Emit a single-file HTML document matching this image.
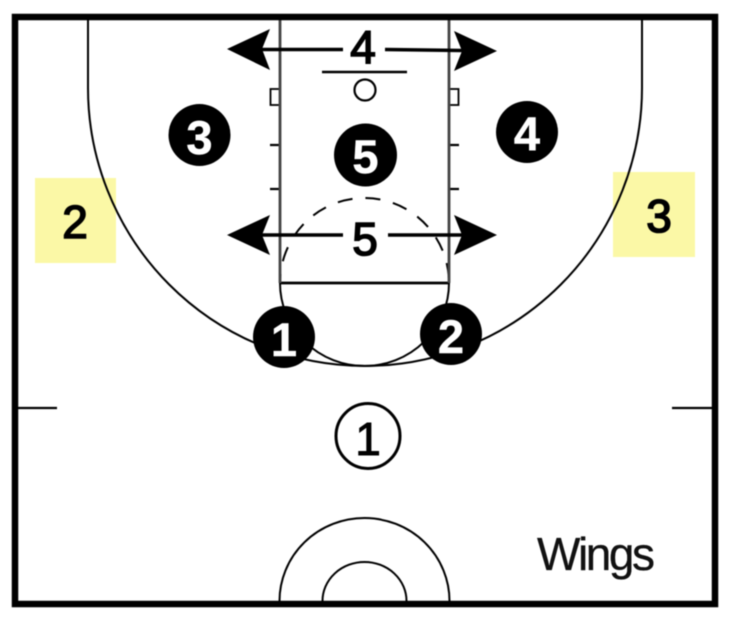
<!DOCTYPE html>
<html>
<head>
<meta charset="utf-8">
<style>
html,body{margin:0;padding:0;background:#fff;width:730px;height:619px;overflow:hidden}
svg{display:block;filter:blur(0.45px)}
text{font-family:"Liberation Sans",sans-serif;text-anchor:middle}
.w{fill:#fff;font-weight:bold;font-size:47px;stroke:#fff;stroke-width:.5px}
.b{fill:#000;stroke:#000;stroke-width:1.6px;font-size:46px}
</style>
</head>
<body>
<svg width="730" height="619" viewBox="0 0 730 619" xmlns="http://www.w3.org/2000/svg">
<rect width="730" height="619" fill="#fff"/>
<!-- yellow boxes -->
<rect x="35" y="178" width="81" height="85" fill="#fbf8a6"/>
<rect x="613" y="172" width="82" height="85" fill="#fbf8a6"/>
<!-- court lines -->
<g fill="none" stroke="#000" stroke-width="2">
  <path d="M88 20V88A277 278 0 0 0 642 88V20"/>
  <path d="M280 283A84.500 83 0 0 0 449 283"/>
  <path d="M280 283H449" stroke-width="2.800"/>
  <path d="M280 283A84.500 85 0 0 1 449 283" stroke-dasharray="15 13" stroke-dashoffset="6"/>
  <path d="M322 72H407" stroke-width="2.400"/>
  <circle cx="365" cy="90" r="10.500" stroke-width="2.200"/>
  <rect x="270.500" y="89" width="9.500" height="16" stroke-width="1.800"/>
  <rect x="449" y="89" width="9.500" height="16" stroke-width="1.800"/>
  <path d="M270 145H280M270 189H280M449 145H459M449 189H459" stroke-width="2.200"/>
  <path d="M18 408H57M672 408H712" stroke-width="2.200"/>
  <path d="M279.500 601A85 83 0 0 1 449.500 601"/>
  <path d="M322.500 601A42 39 0 0 1 406.500 601"/>
  <path d="M280 20V283M449 20V283" stroke="#444" stroke-width="2.800"/>
</g>
<!-- border -->
<rect x="15" y="17" width="700" height="587" fill="none" stroke="#000" stroke-width="6.500"/>
<!-- arrows -->
<g fill="#000" stroke="none">
  <path d="M227 49L270 29L262 49L270 70Z"/>
  <path d="M497 51L454 31L462 51L454 71Z"/>
  <path d="M227 235L270 215L262 235L270 255Z"/>
  <path d="M497 235L454 215L462 235L454 255Z"/>
</g>
<g stroke="#000" stroke-width="3.400" fill="none">
  <path d="M262 49.500H343M385 49.500L462 50.500"/>
  <path d="M262 235H343M388 235H462"/>
</g>
<text class="b" x="363" y="63">4</text>
<text class="b" x="365" y="255">5</text>
<!-- offense players -->
<g fill="#000">
  <circle cx="199.500" cy="135" r="31"/>
  <circle cx="527" cy="132" r="31"/>
  <circle cx="365.500" cy="155" r="31.500"/>
  <circle cx="284" cy="337" r="31"/>
  <circle cx="451" cy="334" r="31"/>
</g>
<text class="w" x="199.500" y="154">3</text>
<text class="w" x="527" y="150">4</text>
<text class="w" x="365.500" y="173">5</text>
<text class="w" x="284" y="356">1</text>
<text class="w" x="451" y="353">2</text>
<!-- open 1 -->
<ellipse cx="368" cy="436" rx="32" ry="32.500" fill="#fff" stroke="#000" stroke-width="3"/>
<text class="b" x="368" y="455" style="stroke-width:1px">1</text>
<!-- yellow labels -->
<text class="b" x="75" y="238">2</text>
<text class="b" x="659" y="232">3</text>
<!-- Wings -->
<text x="596" y="570" font-size="46" fill="#111" stroke="#111" stroke-width=".3" textLength="118" lengthAdjust="spacing">Wings</text>
</svg>
</body>
</html>
